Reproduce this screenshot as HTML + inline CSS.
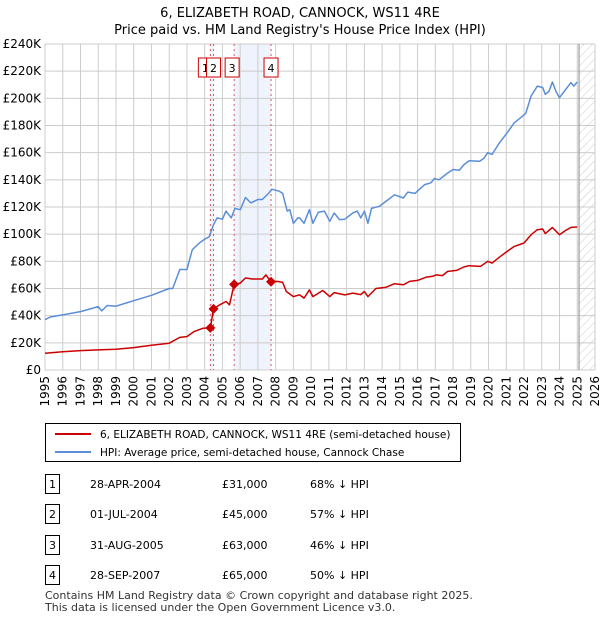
<!DOCTYPE html>
<html><head><meta charset="utf-8"><style>
body{margin:0;background:#fff;font-family:"Liberation Sans","DejaVu Sans",sans-serif;}
svg text{font-family:"DejaVu Sans","Liberation Sans",sans-serif;}
</style></head><body>
<svg id="c" width="600" height="620" xmlns="http://www.w3.org/2000/svg">
<defs><pattern id="hatch" width="6" height="6" patternUnits="userSpaceOnUse" patternTransform="rotate(45)"><line x1="0" y1="0" x2="0" y2="6" stroke="#ccc" stroke-width="1"/></pattern></defs>
<text x="300" y="17" text-anchor="middle" font-size="13">6, ELIZABETH ROAD, CANNOCK, WS11 4RE</text>
<text x="300" y="34" text-anchor="middle" font-size="13">Price paid vs. HM Land Registry's House Price Index (HPI)</text>
<g id="plot"></g>
<g>
<rect x="45.5" y="423.5" width="415" height="38" fill="#fff" stroke="#000"/>
<line x1="55" y1="434" x2="91" y2="434" stroke="#cc0000" stroke-width="2"/>
<text x="100" y="438" font-size="10.5">6, ELIZABETH ROAD, CANNOCK, WS11 4RE (semi-detached house)</text>
<line x1="55" y1="452" x2="91" y2="452" stroke="#5b8ed6" stroke-width="2"/>
<text x="100" y="456" font-size="10.5">HPI: Average price, semi-detached house, Cannock Chase</text>
</g>
<g id="tbl" font-size="11"></g>
<text x="45" y="599" font-size="11" fill="#333">Contains HM Land Registry data © Crown copyright and database right 2025.</text>
<text x="45" y="611" font-size="11" fill="#333">This data is licensed under the Open Government Licence v3.0.</text>
</svg>
<script>
const hpiYears=[1995,1995.3,1996,1997,1998,1998.2,1998.5,1999,2000,2001,2002,2002.2,2002.6,2003,2003.3,2003.7,2004,2004.25,2004.5,2004.7,2005,2005.2,2005.5,2005.7,2006,2006.3,2006.6,2007,2007.25,2007.6,2007.8,2008.2,2008.4,2008.65,2008.8,2009,2009.25,2009.35,2009.6,2009.9,2010.1,2010.4,2010.75,2011.05,2011.3,2011.6,2011.9,2012.35,2012.6,2012.8,2013,2013.2,2013.4,2013.85,2014.2,2014.7,2015.2,2015.45,2015.85,2016.4,2016.75,2016.95,2017.2,2017.7,2018,2018.35,2018.6,2018.9,2019.5,2019.75,2019.95,2020.2,2020.6,2021.05,2021.45,2021.8,2022.1,2022.4,2022.75,2023.05,2023.2,2023.4,2023.6,2023.8,2024,2024.35,2024.65,2024.8,2025];
const hpiValues=[37,39,40.6,43,46.7,43.5,47.5,47,51,55,60,60,74,74,88.6,93.5,96.4,98,107,112,111,117,112,119,118,127,123,125.5,125.5,130,133,131.6,130,117,118,108,112,112,108,118,108,116,117,109.5,115.6,110.7,111,115.6,117,112,117,108,119,120.5,124,129,126.6,131,130,136.5,137.8,141,140,145,147.6,147,151,154,153.7,156,160,158.7,167,174.7,182,185.7,189,201.7,209,208,203,205,212,205,200.5,206.6,211.6,209,212];
const propYears=[1995,1996,1997,1998,1999,2000,2001,2002,2002.6,2003,2003.4,2003.9,2004.32,2004.5,2004.85,2005.2,2005.4,2005.66,2006,2006.3,2006.7,2007,2007.25,2007.45,2007.74,2008.1,2008.4,2008.6,2009,2009.25,2009.35,2009.6,2009.9,2010.1,2010.65,2011.05,2011.3,2011.9,2012.35,2012.8,2013,2013.2,2013.65,2014.2,2014.7,2015.2,2015.55,2016,2016.5,2016.85,2017.05,2017.4,2017.7,2018.2,2018.6,2018.9,2019.55,2019.95,2020.2,2020.6,2021.05,2021.45,2022,2022.4,2022.75,2023.05,2023.2,2023.6,2024,2024.35,2024.65,2025];
const propValues=[12.3,13.5,14.3,14.8,15.3,16.5,18.2,19.7,24,24.6,28.3,30.7,31,45,48,50.4,48,63,64,67.7,67,67,67,70,65,65.2,64.5,57.8,54,55,55.3,52.9,59,54,58.5,54,57,55.3,56.6,55.5,57.8,54,60,60.8,63.5,62.7,65.2,66,68.4,69,70,69.5,72.6,73.3,75.8,76.8,76.3,80,78.7,83,87.3,91,93.5,99.6,103.3,103.8,100.4,104.9,99.6,102.8,105,105.3];
const saleLabels=["1","2","3","4"];
const saleYears=[2004.32,2004.5,2005.66,2007.74];
const salePrices=[31,45,63,65];
const saleDates=["28-APR-2004","01-JUL-2004","31-AUG-2005","28-SEP-2007"];
const salePriceText=["£31,000","£45,000","£63,000","£65,000"];
const saleHpiText=["68% ↓ HPI","57% ↓ HPI","46% ↓ HPI","50% ↓ HPI"];
const yTicks=[0,20,40,60,80,100,120,140,160,180,200,220,240];
const xTicks=[1995,1996,1997,1998,1999,2000,2001,2002,2003,2004,2005,2006,2007,2008,2009,2010,2011,2012,2013,2014,2015,2016,2017,2018,2019,2020,2021,2022,2023,2024,2025,2026];
const X0=45,X1=595,Y0=370,Y1=44;
const sx=y=>X0+(y-1995)*(X1-X0)/31;
const sy=v=>Y0-v*(Y0-Y1)/240;
const NS="http://www.w3.org/2000/svg";
const plot=document.getElementById('plot');
function mk(tag,attrs,parent){const e=document.createElementNS(NS,tag);for(const k in attrs)e.setAttribute(k,attrs[k]);(parent||plot).appendChild(e);return e;}
let b=mk('rect',{x:sx(saleYears[0]),y:Y1,width:sx(saleYears[1])-sx(saleYears[0]),height:Y0-Y1,fill:'#eef3fc'});


b=mk('rect',{x:sx(saleYears[2]),y:Y1,width:sx(saleYears[3])-sx(saleYears[2]),height:Y0-Y1,fill:'#eef3fc'});


b=mk('rect',{x:sx(2025.1),y:Y1,width:X1-sx(2025.1),height:Y0-Y1,fill:'url(#hatch)'});


yTicks.forEach(v=>{
 const l=mk('line',{x1:X0,x2:X1,y1:sy(v),y2:sy(v),stroke:'#ccc','stroke-width':1});
 
 
 const t=mk('text',{x:X0-4,y:sy(v)+4,'text-anchor':'end','font-size':12});
 
 
 t.textContent=v===0?'£0':'£'+v+'K';
});
xTicks.forEach(y=>{
 const l=mk('line',{x1:sx(y),x2:sx(y),y1:Y1,y2:Y0,stroke:'#ccc','stroke-width':1});
 
 
 const t=mk('text',{x:0,y:0,'text-anchor':'end','font-size':12,transform:`translate(${sx(y)+4},${Y0+6}) rotate(-90)`});
 
 
 t.textContent=y;
});
let vl=mk('line',{x1:sx(2025.1),x2:sx(2025.1),y1:Y1,y2:Y0,stroke:'#888','stroke-width':1});


saleYears.forEach((y,i)=>{
 const l=mk('line',{x1:sx(y),x2:sx(y),y1:Y1,y2:Y0,stroke:'#e05555','stroke-width':1,'stroke-dasharray':'2,3'});
 
 
});
function path(xs,vs,color,name){
 const d=xs.map((y,i)=>(i?'L':'M')+sx(y).toFixed(1)+','+sy(vs[i]).toFixed(1)).join('');
 const p=mk('path',{d:d,fill:'none',stroke:color,'stroke-width':1.5,'stroke-linejoin':'round'});
 
 
}
path(hpiYears,hpiValues,'#5b8ed6','hpi-line');
path(propYears,propValues,'#cc0000','property-price-line');
saleYears.forEach((y,i)=>{
 const cx=sx(y),cy=sy(salePrices[i]);
 const m=mk('path',{d:`M${cx},${cy-5}L${cx+5},${cy}L${cx},${cy+5}L${cx-5},${cy}Z`,fill:'#cc0000'});
 
 
});
const boxOff=[-5,0,-2,0];
saleYears.forEach((y,i)=>{
 const cx=sx(y)+boxOff[i];
 const r=mk('rect',{x:cx-7,y:58,width:14,height:19,fill:'#fff',stroke:'#cc0000','stroke-width':1});
 
 
 const t=mk('text',{x:cx,y:72,'text-anchor':'middle','font-size':11});
 
 
 t.textContent=saleLabels[i];
});
const tbl=document.getElementById('tbl');
const rowY=[484,514,545,575];
saleLabels.forEach((s,i)=>{
 const y=rowY[i];
 const r=mk('rect',{x:45.5,y:y-9.5,width:14,height:19,fill:'#fff',stroke:'#000'},tbl);
 
 
 const cols=[[52.5,s,'middle'],[90,saleDates[i],'start'],[222,salePriceText[i],'start'],[310,saleHpiText[i],'start']];
 cols.forEach(c=>{
  const t=mk('text',{x:c[0],y:y+4,'text-anchor':c[2]},tbl);
  
  
  t.textContent=c[1];
 });
});
</script>
</body></html>
